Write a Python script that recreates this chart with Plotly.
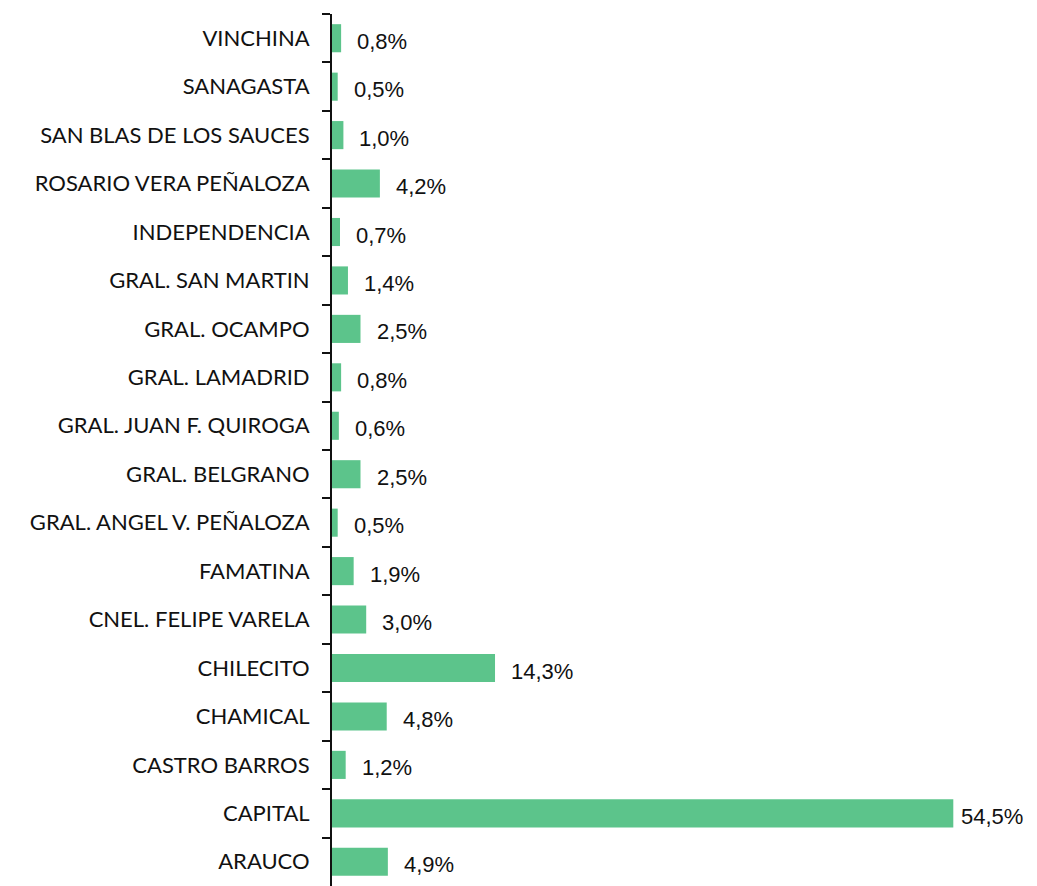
import plotly.graph_objects as go

# departamentos, de arriba hacia abajo
departamentos = [
    "VINCHINA", "SANAGASTA", "SAN BLAS DE LOS SAUCES", "ROSARIO VERA PEÑALOZA",
    "INDEPENDENCIA", "GRAL. SAN MARTIN", "GRAL. OCAMPO", "GRAL. LAMADRID",
    "GRAL. JUAN F. QUIROGA", "GRAL. BELGRANO", "GRAL. ANGEL V. PEÑALOZA",
    "FAMATINA", "CNEL. FELIPE VARELA", "CHILECITO", "CHAMICAL",
    "CASTRO BARROS", "CAPITAL", "ARAUCO",
]
porcentajes = [0.8, 0.5, 1.0, 4.2, 0.7, 1.4, 2.5, 0.8, 0.6, 2.5,
               0.5, 1.9, 3.0, 14.3, 4.8, 1.2, 54.5, 4.9]

etiquetas = [f"{v:.1f}%".replace(".", ",") for v in porcentajes]

fig = go.Figure(go.Bar(
    x=porcentajes,
    y=departamentos,
    orientation="h",
    marker=dict(color="#5cc48b", line=dict(width=0)),
    width=0.58,
    hoverinfo="skip",
))

# value labels to the right of each bar (the longest one sits closer so it fits)
vmax = max(porcentajes)
for d, v, t in zip(departamentos, porcentajes, etiquetas):
    fig.add_annotation(
        x=v, y=d, text=t, xanchor="left", yanchor="middle",
        xshift=6 if v == vmax else 14, yshift=-3, showarrow=False,
        font=dict(family="Liberation Sans, Arial", size=22, color="#111111"),
    )

# page body has an 8px margin, so the figure is a bit smaller than the window
fig.update_layout(
    width=1029, height=878,
    margin=dict(l=324, r=21, t=6, b=0, autoexpand=False),
    paper_bgcolor="white", plot_bgcolor="white",
    showlegend=False,
    xaxis=dict(range=[0, 60], visible=False, fixedrange=True),
    yaxis=dict(
        autorange="reversed",
        showline=True, linecolor="#111111", linewidth=2,
        ticks="outside", tickson="boundaries", ticklen=8,
        tickcolor="#111111", tickwidth=2,
        ticklabelstandoff=16,
        tickfont=dict(family="Lato, Open Sans, sans-serif", size=22, color="#111111"),
        showgrid=False, zeroline=False,
    ),
)

fig.write_html("out.html")
